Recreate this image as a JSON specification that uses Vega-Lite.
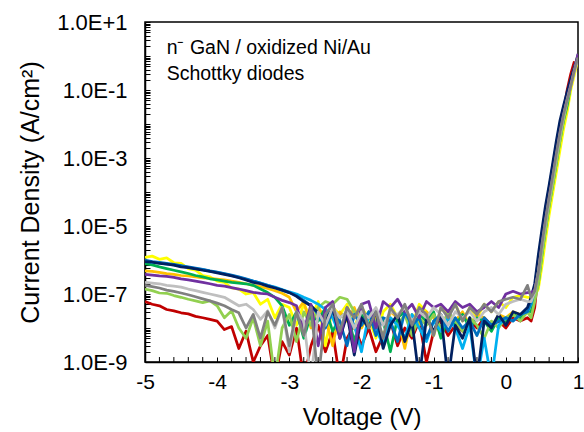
{
"$schema": "https://vega.github.io/schema/vega-lite/v6.json",
"width": 433, "height": 340,
"autosize": {"type": "none"},
"padding": {"left": 145, "top": 22, "right": 6, "bottom": 70},
"background": "white",
"config": {"view": {"stroke": "black", "strokeWidth": 1.5}, "font": "Liberation Sans", "axis": {"labelOverlap": false}},
"layer": [
{"data": {"values": [
{"diode":"red","V":-5,"J":6e-8},{"diode":"red","V":-4.9,"J":5e-8},{"diode":"red","V":-4.8,"J":4.5e-8},{"diode":"red","V":-4.7,"J":3.5e-8},{"diode":"red","V":-4.6,"J":3.2e-8},{"diode":"red","V":-4.5,"J":2.8e-8},{"diode":"red","V":-4.4,"J":2.6e-8},{"diode":"red","V":-4.3,"J":2.2e-8},{"diode":"red","V":-4.2,"J":2e-8},{"diode":"red","V":-4.1,"J":1.8e-8},{"diode":"red","V":-4,"J":1.6e-8},{"diode":"red","V":-3.9,"J":9e-9},{"diode":"red","V":-3.8,"J":1.1e-8},{"diode":"red","V":-3.7,"J":2.5e-9},{"diode":"red","V":-3.6,"J":8e-9},{"diode":"red","V":-3.5,"J":1e-9},{"diode":"red","V":-3.4,"J":3e-9},{"diode":"red","V":-3.3,"J":6e-9},{"diode":"red","V":-3.2,"J":3e-10},{"diode":"red","V":-3.1,"J":4e-9},{"diode":"red","V":-3,"J":1.6e-9},{"diode":"red","V":-2.9,"J":1e-8},{"diode":"red","V":-2.8,"J":3e-10},{"diode":"red","V":-2.7,"J":3e-9},{"diode":"red","V":-2.6,"J":1.2e-8},{"diode":"red","V":-2.5,"J":2e-9},{"diode":"red","V":-2.4,"J":8e-9},{"diode":"red","V":-2.3,"J":3e-10},{"diode":"red","V":-2.2,"J":5e-9},{"diode":"red","V":-2.1,"J":1.2e-8},{"diode":"red","V":-2,"J":3e-9},{"diode":"red","V":-1.9,"J":1e-8},{"diode":"red","V":-1.8,"J":2e-9},{"diode":"red","V":-1.7,"J":6e-9},{"diode":"red","V":-1.6,"J":1.6e-8},{"diode":"red","V":-1.5,"J":3e-9},{"diode":"red","V":-1.4,"J":1e-8},{"diode":"red","V":-1.3,"J":5e-9},{"diode":"red","V":-1.2,"J":1.6e-8},{"diode":"red","V":-1.1,"J":1e-9},{"diode":"red","V":-1,"J":8e-9},{"diode":"red","V":-0.9,"J":1.6e-8},{"diode":"red","V":-0.8,"J":6e-9},{"diode":"red","V":-0.7,"J":1.2e-8},{"diode":"red","V":-0.6,"J":8e-9},{"diode":"red","V":-0.5,"J":1.6e-8},{"diode":"red","V":-0.4,"J":1e-8},{"diode":"red","V":-0.3,"J":2e-8},{"diode":"red","V":-0.2,"J":1.2e-8},{"diode":"red","V":-0.1,"J":1.6e-8},{"diode":"red","V":0,"J":1e-8},{"diode":"red","V":0.1,"J":2e-8},{"diode":"red","V":0.2,"J":1.6e-8},{"diode":"red","V":0.3,"J":2e-8},{"diode":"red","V":0.35,"J":1.6e-8},{"diode":"red","V":0.4,"J":4e-8},{"diode":"red","V":0.45,"J":4.4e-7},{"diode":"red","V":0.5,"J":2.8e-6},{"diode":"red","V":0.55,"J":1.5e-5},{"diode":"red","V":0.6,"J":7e-5},{"diode":"red","V":0.65,"J":3e-4},{"diode":"red","V":0.7,"J":1.4e-3},{"diode":"red","V":0.75,"J":6e-3},{"diode":"red","V":0.8,"J":2.3e-2},{"diode":"red","V":0.85,"J":0.1},{"diode":"red","V":0.9,"J":0.3},{"diode":"red","V":0.95,"J":0.7},
{"diode":"yellow","V":-5,"J":1.2e-6},{"diode":"yellow","V":-4.9,"J":1.3e-6},{"diode":"yellow","V":-4.8,"J":1.05e-6},{"diode":"yellow","V":-4.7,"J":1.15e-6},{"diode":"yellow","V":-4.6,"J":8.3e-7},{"diode":"yellow","V":-4.5,"J":8e-7},{"diode":"yellow","V":-4.4,"J":5.6e-7},{"diode":"yellow","V":-4.3,"J":5e-7},{"diode":"yellow","V":-4.2,"J":3.5e-7},{"diode":"yellow","V":-4.1,"J":3.2e-7},{"diode":"yellow","V":-4,"J":2.4e-7},{"diode":"yellow","V":-3.9,"J":2.2e-7},{"diode":"yellow","V":-3.8,"J":1.5e-7},{"diode":"yellow","V":-3.7,"J":1.4e-7},{"diode":"yellow","V":-3.6,"J":1e-7},{"diode":"yellow","V":-3.5,"J":1.1e-7},{"diode":"yellow","V":-3.4,"J":5e-8},{"diode":"yellow","V":-3.3,"J":7e-8},{"diode":"yellow","V":-3.2,"J":2e-8},{"diode":"yellow","V":-3.1,"J":5e-8},{"diode":"yellow","V":-3,"J":4e-8},{"diode":"yellow","V":-2.9,"J":1.2e-8},{"diode":"yellow","V":-2.8,"J":5e-8},{"diode":"yellow","V":-2.7,"J":2e-8},{"diode":"yellow","V":-2.6,"J":6e-8},{"diode":"yellow","V":-2.5,"J":3e-9},{"diode":"yellow","V":-2.4,"J":4e-8},{"diode":"yellow","V":-2.3,"J":2.5e-8},{"diode":"yellow","V":-2.2,"J":5e-8},{"diode":"yellow","V":-2.1,"J":1e-8},{"diode":"yellow","V":-2,"J":4e-8},{"diode":"yellow","V":-1.9,"J":2e-8},{"diode":"yellow","V":-1.8,"J":5e-9},{"diode":"yellow","V":-1.7,"J":3e-8},{"diode":"yellow","V":-1.6,"J":5e-8},{"diode":"yellow","V":-1.5,"J":2e-8},{"diode":"yellow","V":-1.4,"J":4e-8},{"diode":"yellow","V":-1.3,"J":1.2e-8},{"diode":"yellow","V":-1.2,"J":5e-8},{"diode":"yellow","V":-1.1,"J":3e-8},{"diode":"yellow","V":-1,"J":6e-9},{"diode":"yellow","V":-0.9,"J":4e-8},{"diode":"yellow","V":-0.8,"J":2.5e-8},{"diode":"yellow","V":-0.7,"J":5e-8},{"diode":"yellow","V":-0.6,"J":1.6e-8},{"diode":"yellow","V":-0.5,"J":4e-8},{"diode":"yellow","V":-0.4,"J":2e-8},{"diode":"yellow","V":-0.3,"J":5e-8},{"diode":"yellow","V":-0.2,"J":3e-8},{"diode":"yellow","V":-0.1,"J":6e-8},{"diode":"yellow","V":0,"J":4e-8},{"diode":"yellow","V":0.1,"J":8e-8},{"diode":"yellow","V":0.2,"J":9e-8},{"diode":"yellow","V":0.3,"J":8e-8},{"diode":"yellow","V":0.35,"J":8e-8},{"diode":"yellow","V":0.4,"J":9e-8},{"diode":"yellow","V":0.45,"J":1.4e-7},{"diode":"yellow","V":0.5,"J":6.5e-7},{"diode":"yellow","V":0.55,"J":4e-6},{"diode":"yellow","V":0.6,"J":2.1e-5},{"diode":"yellow","V":0.65,"J":9.1e-5},{"diode":"yellow","V":0.7,"J":3.9e-4},{"diode":"yellow","V":0.75,"J":1.7e-3},{"diode":"yellow","V":0.8,"J":7.2e-3},{"diode":"yellow","V":0.85,"J":2.3e-2},{"diode":"yellow","V":0.9,"J":0.1},{"diode":"yellow","V":0.95,"J":0.28},{"diode":"yellow","V":1,"J":0.8},
{"diode":"orange","V":-5,"J":4.8e-7},{"diode":"orange","V":-4.9,"J":4.6e-7},{"diode":"orange","V":-4.8,"J":4.3e-7},{"diode":"orange","V":-4.7,"J":4e-7},{"diode":"orange","V":-4.6,"J":3.8e-7},{"diode":"orange","V":-4.5,"J":3.5e-7},{"diode":"orange","V":-4.4,"J":3.4e-7},{"diode":"orange","V":-4.3,"J":3.2e-7},{"diode":"orange","V":-4.2,"J":3e-7},{"diode":"orange","V":-4.1,"J":2.9e-7},{"diode":"orange","V":-4,"J":2.75e-7},{"diode":"orange","V":-3.9,"J":2.6e-7},{"diode":"orange","V":-3.8,"J":2.4e-7},{"diode":"orange","V":-3.7,"J":2.2e-7},{"diode":"orange","V":-3.6,"J":2e-7},{"diode":"orange","V":-3.5,"J":1.8e-7},{"diode":"orange","V":-3.4,"J":1.65e-7},{"diode":"orange","V":-3.3,"J":1.45e-7},{"diode":"orange","V":-3.2,"J":1.26e-7},{"diode":"orange","V":-3.1,"J":1.05e-7},{"diode":"orange","V":-3,"J":8e-8},{"diode":"orange","V":-2.9,"J":3e-8},{"diode":"orange","V":-2.8,"J":6e-8},{"diode":"orange","V":-2.7,"J":1e-8},{"diode":"orange","V":-2.6,"J":4e-8},{"diode":"orange","V":-2.5,"J":2e-8},{"diode":"orange","V":-2.4,"J":3e-9},{"diode":"orange","V":-2.3,"J":3e-8},{"diode":"orange","V":-2.2,"J":1.6e-8},{"diode":"orange","V":-2.1,"J":4e-8},{"diode":"orange","V":-2,"J":1e-8},{"diode":"orange","V":-1.9,"J":2.5e-8},{"diode":"orange","V":-1.8,"J":2e-8},{"diode":"orange","V":-1.7,"J":5e-9},{"diode":"orange","V":-1.6,"J":3e-8},{"diode":"orange","V":-1.5,"J":2e-8},{"diode":"orange","V":-1.4,"J":2.5e-9},{"diode":"orange","V":-1.3,"J":2.5e-8},{"diode":"orange","V":-1.2,"J":1.2e-8},{"diode":"orange","V":-1.1,"J":3e-8},{"diode":"orange","V":-1,"J":2e-8},{"diode":"orange","V":-0.9,"J":6e-9},{"diode":"orange","V":-0.8,"J":2.5e-8},{"diode":"orange","V":-0.7,"J":1.6e-8},{"diode":"orange","V":-0.6,"J":3e-8},{"diode":"orange","V":-0.5,"J":1.2e-8},{"diode":"orange","V":-0.4,"J":2.5e-8},{"diode":"orange","V":-0.3,"J":2e-8},{"diode":"orange","V":-0.2,"J":1e-8},{"diode":"orange","V":-0.1,"J":2.5e-8},{"diode":"orange","V":0,"J":2e-8},{"diode":"orange","V":0.1,"J":3e-8},{"diode":"orange","V":0.2,"J":2.5e-8},{"diode":"orange","V":0.3,"J":3e-8},{"diode":"orange","V":0.35,"J":3e-8},{"diode":"orange","V":0.4,"J":1.15e-7},{"diode":"orange","V":0.45,"J":4.4e-7},{"diode":"orange","V":0.5,"J":3.2e-6},{"diode":"orange","V":0.55,"J":1.7e-5},{"diode":"orange","V":0.6,"J":7.8e-5},{"diode":"orange","V":0.65,"J":3.3e-4},{"diode":"orange","V":0.7,"J":1.45e-3},{"diode":"orange","V":0.75,"J":6e-3},{"diode":"orange","V":0.8,"J":2.1e-2},{"diode":"orange","V":0.85,"J":6e-2},{"diode":"orange","V":0.9,"J":0.18},{"diode":"orange","V":0.95,"J":0.45},{"diode":"orange","V":1,"J":1.0},
{"diode":"green","V":-5,"J":7.9e-7},{"diode":"green","V":-4.9,"J":7.2e-7},{"diode":"green","V":-4.8,"J":6.3e-7},{"diode":"green","V":-4.7,"J":5.6e-7},{"diode":"green","V":-4.6,"J":5e-7},{"diode":"green","V":-4.5,"J":4.5e-7},{"diode":"green","V":-4.4,"J":4e-7},{"diode":"green","V":-4.3,"J":3.5e-7},{"diode":"green","V":-4.2,"J":3.2e-7},{"diode":"green","V":-4.1,"J":2.8e-7},{"diode":"green","V":-4,"J":2.6e-7},{"diode":"green","V":-3.9,"J":2.4e-7},{"diode":"green","V":-3.8,"J":2.2e-7},{"diode":"green","V":-3.7,"J":2.1e-7},{"diode":"green","V":-3.6,"J":2e-7},{"diode":"green","V":-3.5,"J":1.8e-7},{"diode":"green","V":-3.4,"J":1.4e-7},{"diode":"green","V":-3.3,"J":1.1e-7},{"diode":"green","V":-3.2,"J":8e-8},{"diode":"green","V":-3.1,"J":4.5e-8},{"diode":"green","V":-3,"J":1.2e-8},{"diode":"green","V":-2.9,"J":3e-8},{"diode":"green","V":-2.8,"J":5e-9},{"diode":"green","V":-2.7,"J":2.5e-8},{"diode":"green","V":-2.6,"J":1.6e-8},{"diode":"green","V":-2.5,"J":4e-8},{"diode":"green","V":-2.4,"J":8e-9},{"diode":"green","V":-2.3,"J":2e-8},{"diode":"green","V":-2.2,"J":3e-8},{"diode":"green","V":-2.1,"J":4e-9},{"diode":"green","V":-2,"J":2.5e-8},{"diode":"green","V":-1.9,"J":1.2e-8},{"diode":"green","V":-1.8,"J":3e-8},{"diode":"green","V":-1.7,"J":1.6e-8},{"diode":"green","V":-1.6,"J":2e-9},{"diode":"green","V":-1.5,"J":2e-8},{"diode":"green","V":-1.4,"J":3e-8},{"diode":"green","V":-1.3,"J":8e-9},{"diode":"green","V":-1.2,"J":2.5e-8},{"diode":"green","V":-1.1,"J":1.6e-8},{"diode":"green","V":-1,"J":3e-8},{"diode":"green","V":-0.9,"J":5e-9},{"diode":"green","V":-0.8,"J":2e-8},{"diode":"green","V":-0.7,"J":1.2e-8},{"diode":"green","V":-0.6,"J":2.5e-8},{"diode":"green","V":-0.5,"J":1e-8},{"diode":"green","V":-0.4,"J":2e-8},{"diode":"green","V":-0.3,"J":1.6e-8},{"diode":"green","V":-0.2,"J":8e-9},{"diode":"green","V":-0.1,"J":2e-8},{"diode":"green","V":0,"J":1.6e-8},{"diode":"green","V":0.1,"J":2.5e-8},{"diode":"green","V":0.2,"J":2e-8},{"diode":"green","V":0.3,"J":3e-8},{"diode":"green","V":0.35,"J":3e-8},{"diode":"green","V":0.4,"J":8e-8},{"diode":"green","V":0.45,"J":2e-7},{"diode":"green","V":0.5,"J":1.4e-6},{"diode":"green","V":0.55,"J":7.9e-6},{"diode":"green","V":0.6,"J":4e-5},{"diode":"green","V":0.65,"J":1.6e-4},{"diode":"green","V":0.7,"J":7.1e-4},{"diode":"green","V":0.75,"J":3.2e-3},{"diode":"green","V":0.8,"J":1.26e-2},{"diode":"green","V":0.85,"J":3.5e-2},{"diode":"green","V":0.9,"J":0.14},{"diode":"green","V":0.95,"J":0.4},{"diode":"green","V":1,"J":1.1},
{"diode":"lime","V":-5,"J":1.4e-7},{"diode":"lime","V":-4.9,"J":1.26e-7},{"diode":"lime","V":-4.8,"J":1.07e-7},{"diode":"lime","V":-4.7,"J":1.05e-7},{"diode":"lime","V":-4.6,"J":9e-8},{"diode":"lime","V":-4.5,"J":8e-8},{"diode":"lime","V":-4.4,"J":7e-8},{"diode":"lime","V":-4.3,"J":6.3e-8},{"diode":"lime","V":-4.2,"J":5.6e-8},{"diode":"lime","V":-4.1,"J":6.3e-8},{"diode":"lime","V":-4,"J":4.5e-8},{"diode":"lime","V":-3.9,"J":2e-8},{"diode":"lime","V":-3.8,"J":3.2e-8},{"diode":"lime","V":-3.7,"J":1e-8},{"diode":"lime","V":-3.6,"J":5e-9},{"diode":"lime","V":-3.5,"J":2e-8},{"diode":"lime","V":-3.4,"J":3e-9},{"diode":"lime","V":-3.3,"J":1.6e-8},{"diode":"lime","V":-3.2,"J":3e-10},{"diode":"lime","V":-3.1,"J":1e-8},{"diode":"lime","V":-3,"J":2.5e-8},{"diode":"lime","V":-2.9,"J":4e-9},{"diode":"lime","V":-2.8,"J":3e-8},{"diode":"lime","V":-2.7,"J":1.2e-8},{"diode":"lime","V":-2.6,"J":4e-8},{"diode":"lime","V":-2.5,"J":6e-8},{"diode":"lime","V":-2.4,"J":5e-8},{"diode":"lime","V":-2.3,"J":8e-8},{"diode":"lime","V":-2.2,"J":7e-8},{"diode":"lime","V":-2.1,"J":3e-8},{"diode":"lime","V":-2,"J":1.2e-8},{"diode":"lime","V":-1.9,"J":3e-8},{"diode":"lime","V":-1.8,"J":1.6e-8},{"diode":"lime","V":-1.7,"J":6e-9},{"diode":"lime","V":-1.6,"J":2e-8},{"diode":"lime","V":-1.5,"J":1.2e-8},{"diode":"lime","V":-1.4,"J":2.5e-8},{"diode":"lime","V":-1.3,"J":6e-9},{"diode":"lime","V":-1.2,"J":2e-8},{"diode":"lime","V":-1.1,"J":1.2e-8},{"diode":"lime","V":-1,"J":2.5e-8},{"diode":"lime","V":-0.9,"J":1e-8},{"diode":"lime","V":-0.8,"J":3e-8},{"diode":"lime","V":-0.7,"J":1.6e-8},{"diode":"lime","V":-0.6,"J":8e-9},{"diode":"lime","V":-0.5,"J":2e-8},{"diode":"lime","V":-0.4,"J":1.2e-8},{"diode":"lime","V":-0.3,"J":5e-9},{"diode":"lime","V":-0.2,"J":1.6e-8},{"diode":"lime","V":-0.1,"J":1e-8},{"diode":"lime","V":0,"J":2e-8},{"diode":"lime","V":0.1,"J":2.5e-8},{"diode":"lime","V":0.2,"J":1.6e-8},{"diode":"lime","V":0.3,"J":3e-8},{"diode":"lime","V":0.35,"J":2e-8},{"diode":"lime","V":0.4,"J":6e-8},{"diode":"lime","V":0.45,"J":2e-7},{"diode":"lime","V":0.5,"J":1.4e-6},{"diode":"lime","V":0.55,"J":7.9e-6},{"diode":"lime","V":0.6,"J":4e-5},{"diode":"lime","V":0.65,"J":1.6e-4},{"diode":"lime","V":0.7,"J":7.1e-4},{"diode":"lime","V":0.75,"J":3.2e-3},{"diode":"lime","V":0.8,"J":1.3e-2},{"diode":"lime","V":0.85,"J":4.5e-2},{"diode":"lime","V":0.9,"J":0.16},{"diode":"lime","V":0.95,"J":0.45},{"diode":"lime","V":1,"J":1.05},
{"diode":"sky","V":-5,"J":9.5e-7},{"diode":"sky","V":-4.9,"J":8.5e-7},{"diode":"sky","V":-4.8,"J":8.2e-7},{"diode":"sky","V":-4.7,"J":7.5e-7},{"diode":"sky","V":-4.6,"J":7.2e-7},{"diode":"sky","V":-4.5,"J":6.6e-7},{"diode":"sky","V":-4.4,"J":6.1e-7},{"diode":"sky","V":-4.3,"J":5.6e-7},{"diode":"sky","V":-4.2,"J":5.2e-7},{"diode":"sky","V":-4.1,"J":4.7e-7},{"diode":"sky","V":-4,"J":4.3e-7},{"diode":"sky","V":-3.9,"J":3.9e-7},{"diode":"sky","V":-3.8,"J":3.5e-7},{"diode":"sky","V":-3.7,"J":3.1e-7},{"diode":"sky","V":-3.6,"J":2.7e-7},{"diode":"sky","V":-3.5,"J":2.4e-7},{"diode":"sky","V":-3.4,"J":2.1e-7},{"diode":"sky","V":-3.3,"J":1.8e-7},{"diode":"sky","V":-3.2,"J":1.6e-7},{"diode":"sky","V":-3.1,"J":1.35e-7},{"diode":"sky","V":-3,"J":1.15e-7},{"diode":"sky","V":-2.9,"J":1e-7},{"diode":"sky","V":-2.8,"J":8e-8},{"diode":"sky","V":-2.7,"J":6.5e-8},{"diode":"sky","V":-2.6,"J":5e-8},{"diode":"sky","V":-2.5,"J":3.5e-8},{"diode":"sky","V":-2.4,"J":2e-8},{"diode":"sky","V":-2.3,"J":6e-9},{"diode":"sky","V":-2.2,"J":3e-8},{"diode":"sky","V":-2.1,"J":1.2e-8},{"diode":"sky","V":-2,"J":2e-9},{"diode":"sky","V":-1.9,"J":2.5e-8},{"diode":"sky","V":-1.8,"J":1e-8},{"diode":"sky","V":-1.7,"J":3e-9},{"diode":"sky","V":-1.6,"J":2e-8},{"diode":"sky","V":-1.5,"J":1.2e-8},{"diode":"sky","V":-1.4,"J":5e-9},{"diode":"sky","V":-1.3,"J":2.5e-8},{"diode":"sky","V":-1.2,"J":1e-8},{"diode":"sky","V":-1.1,"J":4e-9},{"diode":"sky","V":-1,"J":1.6e-8},{"diode":"sky","V":-0.9,"J":8e-9},{"diode":"sky","V":-0.8,"J":2e-8},{"diode":"sky","V":-0.7,"J":1e-8},{"diode":"sky","V":-0.6,"J":2.5e-9},{"diode":"sky","V":-0.5,"J":1.2e-8},{"diode":"sky","V":-0.4,"J":3e-10},{"diode":"sky","V":-0.3,"J":5e-9},{"diode":"sky","V":-0.2,"J":3e-10},{"diode":"sky","V":-0.1,"J":1.2e-8},{"diode":"sky","V":0,"J":2e-8},{"diode":"sky","V":0.1,"J":1.6e-8},{"diode":"sky","V":0.2,"J":2.5e-8},{"diode":"sky","V":0.3,"J":3e-8},{"diode":"sky","V":0.35,"J":5e-8},{"diode":"sky","V":0.4,"J":1.4e-7},{"diode":"sky","V":0.45,"J":8e-7},{"diode":"sky","V":0.5,"J":4.5e-6},{"diode":"sky","V":0.55,"J":2.5e-5},{"diode":"sky","V":0.6,"J":1.1e-4},{"diode":"sky","V":0.65,"J":4.5e-4},{"diode":"sky","V":0.7,"J":2e-3},{"diode":"sky","V":0.75,"J":8.5e-3},{"diode":"sky","V":0.8,"J":2.6e-2},{"diode":"sky","V":0.85,"J":7e-2},{"diode":"sky","V":0.9,"J":0.17},{"diode":"sky","V":0.95,"J":0.42},{"diode":"sky","V":1,"J":0.85},
{"diode":"blue","V":-5,"J":1e-6},{"diode":"blue","V":-4.9,"J":9e-7},{"diode":"blue","V":-4.8,"J":8.5e-7},{"diode":"blue","V":-4.7,"J":8e-7},{"diode":"blue","V":-4.6,"J":7.4e-7},{"diode":"blue","V":-4.5,"J":6.8e-7},{"diode":"blue","V":-4.4,"J":6.3e-7},{"diode":"blue","V":-4.3,"J":5.8e-7},{"diode":"blue","V":-4.2,"J":5.3e-7},{"diode":"blue","V":-4.1,"J":4.8e-7},{"diode":"blue","V":-4,"J":4.4e-7},{"diode":"blue","V":-3.9,"J":4e-7},{"diode":"blue","V":-3.8,"J":3.6e-7},{"diode":"blue","V":-3.7,"J":3.2e-7},{"diode":"blue","V":-3.6,"J":2.8e-7},{"diode":"blue","V":-3.5,"J":2.4e-7},{"diode":"blue","V":-3.4,"J":2.1e-7},{"diode":"blue","V":-3.3,"J":1.8e-7},{"diode":"blue","V":-3.2,"J":1.55e-7},{"diode":"blue","V":-3.1,"J":1.3e-7},{"diode":"blue","V":-3,"J":1.1e-7},{"diode":"blue","V":-2.9,"J":9e-8},{"diode":"blue","V":-2.8,"J":6.5e-8},{"diode":"blue","V":-2.7,"J":4.5e-8},{"diode":"blue","V":-2.6,"J":2.5e-8},{"diode":"blue","V":-2.5,"J":1e-8},{"diode":"blue","V":-2.4,"J":3e-8},{"diode":"blue","V":-2.3,"J":1.6e-8},{"diode":"blue","V":-2.2,"J":3e-9},{"diode":"blue","V":-2.1,"J":2.5e-8},{"diode":"blue","V":-2,"J":1.2e-8},{"diode":"blue","V":-1.9,"J":3e-8},{"diode":"blue","V":-1.8,"J":6e-9},{"diode":"blue","V":-1.7,"J":2e-8},{"diode":"blue","V":-1.6,"J":1.6e-8},{"diode":"blue","V":-1.5,"J":4e-9},{"diode":"blue","V":-1.4,"J":3e-8},{"diode":"blue","V":-1.3,"J":1.2e-8},{"diode":"blue","V":-1.2,"J":2e-8},{"diode":"blue","V":-1.1,"J":5e-9},{"diode":"blue","V":-1,"J":1.6e-8},{"diode":"blue","V":-0.9,"J":2.5e-8},{"diode":"blue","V":-0.8,"J":8e-9},{"diode":"blue","V":-0.7,"J":2e-8},{"diode":"blue","V":-0.6,"J":1e-8},{"diode":"blue","V":-0.5,"J":1.6e-8},{"diode":"blue","V":-0.4,"J":6e-9},{"diode":"blue","V":-0.3,"J":2e-8},{"diode":"blue","V":-0.2,"J":1.2e-8},{"diode":"blue","V":-0.1,"J":1.6e-8},{"diode":"blue","V":0,"J":2e-8},{"diode":"blue","V":0.1,"J":1.6e-8},{"diode":"blue","V":0.2,"J":2.5e-8},{"diode":"blue","V":0.3,"J":3e-8},{"diode":"blue","V":0.35,"J":6e-8},{"diode":"blue","V":0.4,"J":1.6e-7},{"diode":"blue","V":0.45,"J":1e-6},{"diode":"blue","V":0.5,"J":5.5e-6},{"diode":"blue","V":0.55,"J":3e-5},{"diode":"blue","V":0.6,"J":1.3e-4},{"diode":"blue","V":0.65,"J":5.5e-4},{"diode":"blue","V":0.7,"J":2.5e-3},{"diode":"blue","V":0.75,"J":1e-2},{"diode":"blue","V":0.8,"J":3e-2},{"diode":"blue","V":0.85,"J":7.8e-2},{"diode":"blue","V":0.9,"J":0.19},{"diode":"blue","V":0.95,"J":0.45},{"diode":"blue","V":1,"J":0.9},
{"diode":"navy","V":-5,"J":8.9e-7},{"diode":"navy","V":-4.9,"J":8.7e-7},{"diode":"navy","V":-4.8,"J":7.9e-7},{"diode":"navy","V":-4.7,"J":7.6e-7},{"diode":"navy","V":-4.6,"J":7.1e-7},{"diode":"navy","V":-4.5,"J":6.3e-7},{"diode":"navy","V":-4.4,"J":6e-7},{"diode":"navy","V":-4.3,"J":5.5e-7},{"diode":"navy","V":-4.2,"J":5e-7},{"diode":"navy","V":-4.1,"J":4.6e-7},{"diode":"navy","V":-4,"J":4.2e-7},{"diode":"navy","V":-3.9,"J":3.8e-7},{"diode":"navy","V":-3.8,"J":3.4e-7},{"diode":"navy","V":-3.7,"J":3e-7},{"diode":"navy","V":-3.6,"J":2.6e-7},{"diode":"navy","V":-3.5,"J":2.2e-7},{"diode":"navy","V":-3.4,"J":2e-7},{"diode":"navy","V":-3.3,"J":1.7e-7},{"diode":"navy","V":-3.2,"J":1.5e-7},{"diode":"navy","V":-3.1,"J":1.3e-7},{"diode":"navy","V":-3,"J":1.1e-7},{"diode":"navy","V":-2.9,"J":8.5e-8},{"diode":"navy","V":-2.8,"J":6e-8},{"diode":"navy","V":-2.7,"J":4.5e-8},{"diode":"navy","V":-2.6,"J":2.8e-8},{"diode":"navy","V":-2.5,"J":1.6e-8},{"diode":"navy","V":-2.4,"J":4e-8},{"diode":"navy","V":-2.3,"J":5e-9},{"diode":"navy","V":-2.2,"J":2.5e-8},{"diode":"navy","V":-2.1,"J":1.6e-9},{"diode":"navy","V":-2,"J":2e-8},{"diode":"navy","V":-1.9,"J":1e-8},{"diode":"navy","V":-1.8,"J":3e-8},{"diode":"navy","V":-1.7,"J":2.5e-9},{"diode":"navy","V":-1.6,"J":1.2e-8},{"diode":"navy","V":-1.5,"J":2.5e-8},{"diode":"navy","V":-1.4,"J":4e-9},{"diode":"navy","V":-1.3,"J":1.6e-8},{"diode":"navy","V":-1.2,"J":3e-10},{"diode":"navy","V":-1.1,"J":2e-8},{"diode":"navy","V":-1,"J":8e-9},{"diode":"navy","V":-0.9,"J":2.5e-8},{"diode":"navy","V":-0.8,"J":3e-10},{"diode":"navy","V":-0.7,"J":1.2e-8},{"diode":"navy","V":-0.6,"J":5e-9},{"diode":"navy","V":-0.5,"J":2e-8},{"diode":"navy","V":-0.4,"J":3e-10},{"diode":"navy","V":-0.3,"J":1.6e-8},{"diode":"navy","V":-0.2,"J":1e-8},{"diode":"navy","V":-0.1,"J":2.5e-8},{"diode":"navy","V":0,"J":1.2e-8},{"diode":"navy","V":0.1,"J":3e-8},{"diode":"navy","V":0.2,"J":2.5e-8},{"diode":"navy","V":0.3,"J":4e-8},{"diode":"navy","V":0.35,"J":8e-8},{"diode":"navy","V":0.4,"J":2e-7},{"diode":"navy","V":0.45,"J":1.4e-6},{"diode":"navy","V":0.5,"J":7.9e-6},{"diode":"navy","V":0.55,"J":4e-5},{"diode":"navy","V":0.6,"J":1.6e-4},{"diode":"navy","V":0.65,"J":7.1e-4},{"diode":"navy","V":0.7,"J":3.2e-3},{"diode":"navy","V":0.75,"J":1.26e-2},{"diode":"navy","V":0.8,"J":3.5e-2},{"diode":"navy","V":0.85,"J":8.9e-2},{"diode":"navy","V":0.9,"J":0.21},{"diode":"navy","V":0.95,"J":0.48},{"diode":"navy","V":1,"J":0.95},
{"diode":"purple","V":-5,"J":3.8e-7},{"diode":"purple","V":-4.9,"J":3.6e-7},{"diode":"purple","V":-4.8,"J":3.4e-7},{"diode":"purple","V":-4.7,"J":3.3e-7},{"diode":"purple","V":-4.6,"J":3.1e-7},{"diode":"purple","V":-4.5,"J":2.8e-7},{"diode":"purple","V":-4.4,"J":2.6e-7},{"diode":"purple","V":-4.3,"J":2.4e-7},{"diode":"purple","V":-4.2,"J":2.2e-7},{"diode":"purple","V":-4.1,"J":2e-7},{"diode":"purple","V":-4,"J":1.8e-7},{"diode":"purple","V":-3.9,"J":1.7e-7},{"diode":"purple","V":-3.8,"J":1.55e-7},{"diode":"purple","V":-3.7,"J":1.4e-7},{"diode":"purple","V":-3.6,"J":1.25e-7},{"diode":"purple","V":-3.5,"J":1.12e-7},{"diode":"purple","V":-3.4,"J":1.05e-7},{"diode":"purple","V":-3.3,"J":1e-7},{"diode":"purple","V":-3.2,"J":8e-8},{"diode":"purple","V":-3.1,"J":6.5e-8},{"diode":"purple","V":-3,"J":5.6e-8},{"diode":"purple","V":-2.9,"J":4.5e-8},{"diode":"purple","V":-2.8,"J":8e-9},{"diode":"purple","V":-2.7,"J":5e-8},{"diode":"purple","V":-2.6,"J":3e-9},{"diode":"purple","V":-2.5,"J":4e-8},{"diode":"purple","V":-2.4,"J":6e-8},{"diode":"purple","V":-2.3,"J":5e-9},{"diode":"purple","V":-2.2,"J":4e-8},{"diode":"purple","V":-2.1,"J":2e-9},{"diode":"purple","V":-2,"J":5e-8},{"diode":"purple","V":-1.9,"J":6e-8},{"diode":"purple","V":-1.8,"J":1e-8},{"diode":"purple","V":-1.7,"J":6e-8},{"diode":"purple","V":-1.6,"J":4e-8},{"diode":"purple","V":-1.5,"J":7e-8},{"diode":"purple","V":-1.4,"J":3e-8},{"diode":"purple","V":-1.3,"J":5e-8},{"diode":"purple","V":-1.2,"J":2e-8},{"diode":"purple","V":-1.1,"J":6e-8},{"diode":"purple","V":-1,"J":4e-8},{"diode":"purple","V":-0.9,"J":5e-8},{"diode":"purple","V":-0.8,"J":3e-8},{"diode":"purple","V":-0.7,"J":6e-8},{"diode":"purple","V":-0.6,"J":4e-8},{"diode":"purple","V":-0.5,"J":5e-8},{"diode":"purple","V":-0.4,"J":3e-8},{"diode":"purple","V":-0.3,"J":4e-8},{"diode":"purple","V":-0.2,"J":6e-8},{"diode":"purple","V":-0.1,"J":4e-8},{"diode":"purple","V":0,"J":1e-7},{"diode":"purple","V":0.1,"J":1.2e-7},{"diode":"purple","V":0.2,"J":1e-7},{"diode":"purple","V":0.3,"J":1.1e-7},{"diode":"purple","V":0.35,"J":1.1e-7},{"diode":"purple","V":0.4,"J":1.3e-7},{"diode":"purple","V":0.45,"J":4.4e-7},{"diode":"purple","V":0.5,"J":2.8e-6},{"diode":"purple","V":0.55,"J":1.5e-5},{"diode":"purple","V":0.6,"J":6.9e-5},{"diode":"purple","V":0.65,"J":2.9e-4},{"diode":"purple","V":0.7,"J":1.3e-3},{"diode":"purple","V":0.75,"J":5.5e-3},{"diode":"purple","V":0.8,"J":1.9e-2},{"diode":"purple","V":0.85,"J":5.5e-2},{"diode":"purple","V":0.9,"J":0.15},{"diode":"purple","V":0.95,"J":0.42},{"diode":"purple","V":1,"J":1.15},
{"diode":"silver","V":-5,"J":2.2e-7},{"diode":"silver","V":-4.9,"J":2.1e-7},{"diode":"silver","V":-4.8,"J":2e-7},{"diode":"silver","V":-4.7,"J":1.8e-7},{"diode":"silver","V":-4.6,"J":1.7e-7},{"diode":"silver","V":-4.5,"J":1.6e-7},{"diode":"silver","V":-4.4,"J":1.4e-7},{"diode":"silver","V":-4.3,"J":1.26e-7},{"diode":"silver","V":-4.2,"J":1.12e-7},{"diode":"silver","V":-4.1,"J":1e-7},{"diode":"silver","V":-4,"J":9e-8},{"diode":"silver","V":-3.9,"J":8e-8},{"diode":"silver","V":-3.8,"J":6e-8},{"diode":"silver","V":-3.7,"J":4.5e-8},{"diode":"silver","V":-3.6,"J":5e-8},{"diode":"silver","V":-3.5,"J":3.5e-8},{"diode":"silver","V":-3.4,"J":1.8e-8},{"diode":"silver","V":-3.3,"J":3.2e-8},{"diode":"silver","V":-3.2,"J":1e-8},{"diode":"silver","V":-3.1,"J":4e-8},{"diode":"silver","V":-3,"J":2e-9},{"diode":"silver","V":-2.9,"J":3e-8},{"diode":"silver","V":-2.8,"J":1.6e-8},{"diode":"silver","V":-2.7,"J":3e-10},{"diode":"silver","V":-2.6,"J":3e-8},{"diode":"silver","V":-2.5,"J":1.2e-8},{"diode":"silver","V":-2.4,"J":4e-8},{"diode":"silver","V":-2.3,"J":2e-8},{"diode":"silver","V":-2.2,"J":3e-8},{"diode":"silver","V":-2.1,"J":1e-8},{"diode":"silver","V":-2,"J":3e-8},{"diode":"silver","V":-1.9,"J":2e-8},{"diode":"silver","V":-1.8,"J":4e-8},{"diode":"silver","V":-1.7,"J":1.2e-8},{"diode":"silver","V":-1.6,"J":3e-8},{"diode":"silver","V":-1.5,"J":2.5e-8},{"diode":"silver","V":-1.4,"J":4e-8},{"diode":"silver","V":-1.3,"J":1.6e-8},{"diode":"silver","V":-1.2,"J":3e-8},{"diode":"silver","V":-1.1,"J":2e-8},{"diode":"silver","V":-1,"J":4e-8},{"diode":"silver","V":-0.9,"J":2.5e-8},{"diode":"silver","V":-0.8,"J":1.2e-8},{"diode":"silver","V":-0.7,"J":3e-8},{"diode":"silver","V":-0.6,"J":2e-8},{"diode":"silver","V":-0.5,"J":3e-8},{"diode":"silver","V":-0.4,"J":1.6e-8},{"diode":"silver","V":-0.3,"J":3e-8},{"diode":"silver","V":-0.2,"J":4e-8},{"diode":"silver","V":-0.1,"J":2.5e-8},{"diode":"silver","V":0,"J":5e-8},{"diode":"silver","V":0.1,"J":6e-8},{"diode":"silver","V":0.2,"J":7e-8},{"diode":"silver","V":0.3,"J":6e-8},{"diode":"silver","V":0.35,"J":6e-8},{"diode":"silver","V":0.4,"J":1.15e-7},{"diode":"silver","V":0.45,"J":4.4e-7},{"diode":"silver","V":0.5,"J":2.4e-6},{"diode":"silver","V":0.55,"J":1.3e-5},{"diode":"silver","V":0.6,"J":6e-5},{"diode":"silver","V":0.65,"J":2.5e-4},{"diode":"silver","V":0.7,"J":1.1e-3},{"diode":"silver","V":0.75,"J":4.8e-3},{"diode":"silver","V":0.8,"J":1.7e-2},{"diode":"silver","V":0.85,"J":5.1e-2},{"diode":"silver","V":0.9,"J":0.13},{"diode":"silver","V":0.95,"J":0.36},{"diode":"silver","V":1,"J":0.85},
{"diode":"gray","V":-5,"J":1.8e-7},{"diode":"gray","V":-4.9,"J":1.65e-7},{"diode":"gray","V":-4.8,"J":1.5e-7},{"diode":"gray","V":-4.7,"J":1.3e-7},{"diode":"gray","V":-4.6,"J":1.2e-7},{"diode":"gray","V":-4.5,"J":1.07e-7},{"diode":"gray","V":-4.4,"J":9.5e-8},{"diode":"gray","V":-4.3,"J":8.3e-8},{"diode":"gray","V":-4.2,"J":7.2e-8},{"diode":"gray","V":-4.1,"J":6.3e-8},{"diode":"gray","V":-4,"J":5.4e-8},{"diode":"gray","V":-3.9,"J":4.5e-8},{"diode":"gray","V":-3.8,"J":3.5e-8},{"diode":"gray","V":-3.7,"J":2.8e-8},{"diode":"gray","V":-3.6,"J":1e-8},{"diode":"gray","V":-3.5,"J":2.5e-8},{"diode":"gray","V":-3.4,"J":5e-9},{"diode":"gray","V":-3.3,"J":3e-8},{"diode":"gray","V":-3.2,"J":1.2e-8},{"diode":"gray","V":-3.1,"J":4e-8},{"diode":"gray","V":-3,"J":3e-9},{"diode":"gray","V":-2.9,"J":3e-8},{"diode":"gray","V":-2.8,"J":6e-9},{"diode":"gray","V":-2.7,"J":4e-8},{"diode":"gray","V":-2.6,"J":3e-10},{"diode":"gray","V":-2.5,"J":2.5e-8},{"diode":"gray","V":-2.4,"J":5e-8},{"diode":"gray","V":-2.3,"J":8e-9},{"diode":"gray","V":-2.2,"J":4e-8},{"diode":"gray","V":-2.1,"J":2e-8},{"diode":"gray","V":-2,"J":5e-8},{"diode":"gray","V":-1.9,"J":1e-8},{"diode":"gray","V":-1.8,"J":3e-8},{"diode":"gray","V":-1.7,"J":5e-9},{"diode":"gray","V":-1.6,"J":4e-8},{"diode":"gray","V":-1.5,"J":2e-8},{"diode":"gray","V":-1.4,"J":5e-8},{"diode":"gray","V":-1.3,"J":1.2e-8},{"diode":"gray","V":-1.2,"J":4e-8},{"diode":"gray","V":-1.1,"J":2.5e-8},{"diode":"gray","V":-1,"J":6e-9},{"diode":"gray","V":-0.9,"J":4e-8},{"diode":"gray","V":-0.8,"J":2e-8},{"diode":"gray","V":-0.7,"J":5e-8},{"diode":"gray","V":-0.6,"J":1.6e-8},{"diode":"gray","V":-0.5,"J":4e-8},{"diode":"gray","V":-0.4,"J":2.5e-8},{"diode":"gray","V":-0.3,"J":5e-8},{"diode":"gray","V":-0.2,"J":3e-8},{"diode":"gray","V":-0.1,"J":6e-8},{"diode":"gray","V":0,"J":7e-8},{"diode":"gray","V":0.1,"J":8e-8},{"diode":"gray","V":0.2,"J":7e-8},{"diode":"gray","V":0.3,"J":1.8e-7},{"diode":"gray","V":0.35,"J":8e-8},{"diode":"gray","V":0.4,"J":1.2e-7},{"diode":"gray","V":0.45,"J":4.4e-7},{"diode":"gray","V":0.5,"J":2.8e-6},{"diode":"gray","V":0.55,"J":1.5e-5},{"diode":"gray","V":0.6,"J":6.9e-5},{"diode":"gray","V":0.65,"J":2.9e-4},{"diode":"gray","V":0.7,"J":1.3e-3},{"diode":"gray","V":0.75,"J":5.5e-3},{"diode":"gray","V":0.8,"J":1.9e-2},{"diode":"gray","V":0.85,"J":5.1e-2},{"diode":"gray","V":0.9,"J":0.13},{"diode":"gray","V":0.95,"J":0.38},{"diode":"gray","V":1,"J":0.9}
]},
"mark": {"type": "line", "strokeWidth": 2.75, "clip": true, "strokeJoin": "round"},
"encoding": {
 "x": {"field": "V", "type": "quantitative",
  "scale": {"domain": [-5, 1], "nice": false, "zero": false},
  "axis": {"title": "Voltage (V)", "grid": false,
   "values": [-5,-4,-3,-2,-1,0,1],
   "labelExpr": "toString(datum.value)",
   "tickSize": -5, "tickColor": "black", "tickWidth": 1,
   "domainColor": "black", "domainWidth": 1.5,
   "labelFontSize": 21, "labelColor": "black", "labelFont": "Liberation Sans", "labelPadding": 14, "labelFlush": false, "labelOverlap": false,
   "titleFontSize": 24, "titleFontWeight": "normal", "titleColor": "black", "titleFont": "Liberation Sans", "titlePadding": 13}},
 "y": {"field": "J", "type": "quantitative",
  "scale": {"type": "log", "domain": [1e-9, 10], "nice": false},
  "axis": {"title": "Current Density (A/cm²)", "grid": false,
   "values": [1e-9,2e-9,3e-9,4e-9,5e-9,6e-9,7e-9,8e-9,9e-9,1e-8,2e-8,3e-8,4e-8,5e-8,6e-8,7e-8,8e-8,9e-8,1e-7,2e-7,3e-7,4e-7,5e-7,6e-7,7e-7,8e-7,9e-7,1e-6,2e-6,3e-6,4e-6,5e-6,6e-6,7e-6,8e-6,9e-6,1e-5,2e-5,3e-5,4e-5,5e-5,6e-5,7e-5,8e-5,9e-5,1e-4,2e-4,3e-4,4e-4,5e-4,6e-4,7e-4,8e-4,9e-4,1e-3,2e-3,3e-3,4e-3,5e-3,6e-3,7e-3,8e-3,9e-3,1e-2,2e-2,3e-2,4e-2,5e-2,6e-2,7e-2,8e-2,9e-2,0.1,0.2,0.3,0.4,0.5,0.6,0.7,0.8,0.9,1,2,3,4,5,6,7,8,9,10],
   "labelExpr": "abs(log(datum.value)/LN10 - round(log(datum.value)/LN10)) < 0.001 && round(log(datum.value)/LN10) % 2 != 0 ? '1.0E' + (datum.value >= 1 ? '+' : '') + round(log(datum.value)/LN10) : ''",
   "tickSize": -5, "tickColor": "black", "tickWidth": 1,
   "domainColor": "black", "domainWidth": 1.5,
   "labelFontSize": 22, "labelColor": "black", "labelFont": "Liberation Sans", "labelPadding": 23, "labelOverlap": false, "labelFlush": false,
   "titleFontSize": 25, "titleFontWeight": "normal", "titleColor": "black", "titleFont": "Liberation Sans", "titlePadding": 13}},
 "color": {"field": "diode", "type": "nominal",
  "scale": {"domain": ["red","yellow","orange","green","lime","sky","blue","navy","purple","silver","gray"],
   "range": ["#C00000","#FFFF00","#FFC000","#00B050","#92D050","#00B0F0","#0070C0","#002060","#7030A0","#BFBFBF","#808080"]},
  "legend": null}
}},
{"data": {"values": [{"tick":-4.8},{"tick":-4.6},{"tick":-4.4},{"tick":-4.2},{"tick":-3.8},{"tick":-3.6},{"tick":-3.4},{"tick":-3.2},{"tick":-2.8},{"tick":-2.6},{"tick":-2.4},{"tick":-2.2},{"tick":-1.8},{"tick":-1.6},{"tick":-1.4},{"tick":-1.2},{"tick":-0.8},{"tick":-0.6},{"tick":-0.4},{"tick":-0.2},{"tick":0.2},{"tick":0.4},{"tick":0.6},{"tick":0.8}]},
 "mark": {"type": "rule", "color": "black", "strokeWidth": 1},
 "encoding": {"x": {"field": "tick", "type": "quantitative", "title": "Voltage (V)"}, "y": {"datum": 1e-9}, "y2": {"datum": 1.4e-9}}},
{"data": {"values": [{}]},
 "mark": {"type": "text", "text": ["n⁻ GaN / oxidized Ni/Au", "Schottky diodes"], "align": "left", "baseline": "alphabetic", "fontSize": 19.5, "lineHeight": 26, "font": "Liberation Sans", "color": "black"},
 "encoding": {"x": {"datum": -4.7}, "y": {"datum": 1.145}}}
]
}
